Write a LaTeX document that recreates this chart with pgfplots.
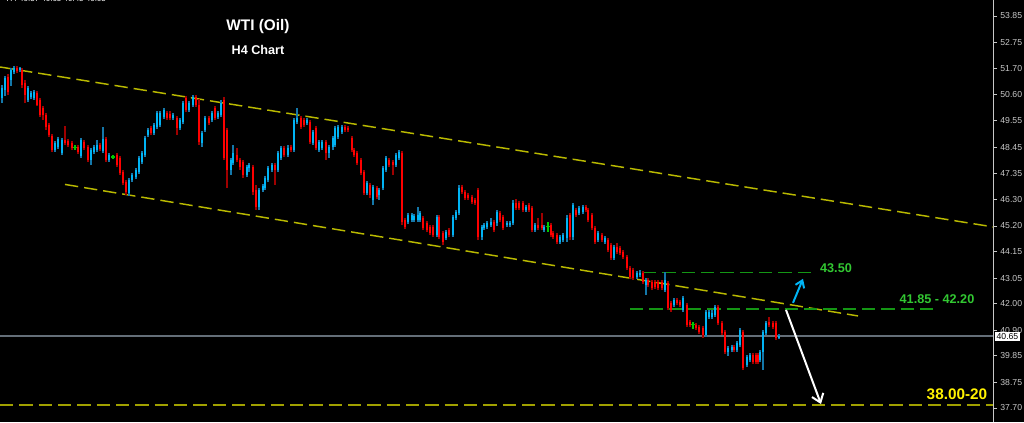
\documentclass[border=0pt]{standalone}
\usepackage{pgfplots}
\pgfplotsset{compat=1.18}
\usepackage{pgfplotstable}
\usepackage{fontspec}
\setmainfont{Liberation Sans}
\usetikzlibrary{arrows.meta}
\definecolor{bull}{RGB}{0,180,245}
\definecolor{bullw}{RGB}{20,120,170}
\definecolor{bear}{RGB}{255,0,0}
\definecolor{bearw}{RGB}{160,0,0}
\definecolor{doji}{RGB}{0,200,0}
\definecolor{chan}{RGB}{185,185,0}
\definecolor{lvl}{RGB}{20,150,20}
\definecolor{lvltxt}{RGB}{50,200,50}
\definecolor{cur}{RGB}{100,110,120}
\definecolor{axgray}{RGB}{200,200,200}
\definecolor{lowlvl}{RGB}{160,160,0}

\pgfplotstableread{
x o h l c
2 50.47 51.01 50.27 50.88
5 50.80 51.38 50.55 51.30
11 51.21 51.71 50.97 51.63
14 51.54 51.79 51.46 51.71
20 51.63 51.75 51.54 51.71
28 50.39 50.97 50.31 50.88
31 50.51 50.76 50.43 50.68
34 50.47 50.80 50.39 50.72
55 48.33 48.70 48.25 48.62
58 48.45 48.87 48.37 48.78
62 48.21 48.82 48.12 48.74
81 48.08 48.82 48.00 48.74
91 47.92 48.41 47.71 48.33
94 48.25 48.54 48.17 48.45
97 48.33 48.74 48.25 48.54
103 48.29 49.28 48.21 48.78
109 47.92 48.21 47.84 48.12
129 46.56 47.18 46.43 47.09
132 47.09 47.38 47.01 47.30
136 47.22 47.59 47.14 47.51
139 47.42 48.08 47.34 48.00
142 47.84 48.29 47.75 48.21
145 48.12 48.91 48.04 48.82
148 48.95 49.24 48.87 49.15
154 49.03 49.44 48.95 49.36
157 49.28 49.94 49.20 49.85
160 49.36 49.94 49.28 49.85
164 49.69 50.06 49.61 49.98
173 49.65 49.85 49.57 49.77
180 49.24 49.65 49.15 49.57
183 49.48 50.35 49.40 50.27
189 49.98 50.35 49.90 50.27
193 50.18 50.60 50.10 50.51
202 48.62 49.11 48.45 49.03
205 49.15 49.73 49.07 49.65
212 49.57 49.94 49.48 49.85
218 49.69 49.94 49.61 49.85
221 49.77 50.39 49.69 50.27
231 47.51 48.00 47.30 47.92
233 47.79 48.54 47.71 48.21
247 47.30 47.71 47.22 47.63
249 47.59 47.79 47.42 47.71
259 45.98 46.76 45.86 46.68
263 46.68 46.93 46.60 46.85
265 46.76 47.26 46.68 47.18
268 47.09 47.67 47.01 47.59
272 47.51 47.79 47.42 47.71
278 47.51 48.29 47.42 48.21
281 48.00 48.49 47.92 48.41
288 48.12 48.54 48.04 48.41
294 48.33 49.65 48.25 49.57
297 49.48 50.06 49.40 49.65
307 49.44 49.65 49.36 49.57
313 48.62 49.15 48.54 49.07
319 48.33 48.74 48.25 48.66
322 48.41 48.74 48.33 48.66
329 48.21 48.54 48.00 48.45
333 48.45 48.91 48.33 48.82
335 48.54 49.32 48.45 49.24
338 48.87 49.36 48.78 49.28
342 49.07 49.36 48.99 49.28
367 46.56 47.05 46.48 46.97
373 46.27 46.89 46.06 46.81
379 46.48 46.76 46.27 46.68
383 46.76 47.67 46.68 47.59
386 47.51 48.08 47.42 48.00
396 47.71 48.21 47.63 48.12
399 48.00 48.33 47.92 48.25
408 45.36 45.73 45.28 45.65
412 45.45 45.73 45.36 45.65
414 45.45 45.69 45.36 45.61
418 45.45 45.98 45.36 45.65
420 45.45 45.82 45.36 45.73
437 44.83 45.65 44.75 45.57
446 44.70 45.03 44.62 44.95
453 44.83 45.65 44.75 45.57
456 45.53 45.86 45.45 45.78
459 45.73 46.89 45.65 46.76
482 44.75 45.24 44.62 45.16
484 45.12 45.32 45.03 45.24
487 45.16 45.40 45.08 45.32
491 45.24 45.53 45.16 45.36
497 45.32 45.86 45.20 45.78
507 45.24 45.40 45.16 45.32
510 45.24 45.40 45.16 45.32
513 45.32 46.27 45.24 46.15
526 45.86 46.06 45.78 45.98
535 45.03 45.32 44.95 45.24
544 45.03 45.24 44.95 45.16
560 44.54 44.83 44.46 44.75
563 44.62 44.91 44.54 44.83
567 44.70 45.65 44.54 45.53
573 44.75 46.15 44.62 46.06
579 45.73 46.02 45.65 45.94
583 45.78 46.06 45.69 45.98
598 44.62 44.99 44.54 44.91
605 44.54 44.79 44.46 44.70
614 43.88 44.42 43.80 44.33
637 43.10 43.34 43.02 43.26
640 43.18 43.39 43.10 43.26
646 42.77 43.06 42.36 42.97
665 42.56 43.30 42.48 42.97
674 41.94 42.23 41.86 42.15
683 41.74 42.32 41.66 42.23
706 40.71 41.74 40.63 41.66
709 41.45 41.74 41.37 41.66
712 41.45 41.74 41.37 41.62
715 41.53 41.94 41.45 41.86
728 40.01 40.26 39.84 40.17
732 40.09 40.30 40.01 40.21
737 40.09 40.46 40.01 40.38
740 40.30 41.00 40.21 40.91
747 39.47 39.88 39.39 39.80
750 39.68 39.97 39.60 39.88
760 39.68 40.09 39.60 40.01
763 40.01 40.91 39.27 40.83
766 40.79 41.28 40.71 41.20
779 40.58 40.75 40.54 40.67
}\tblup

\pgfplotstableread{
x o h l c
8 51.34 51.46 50.60 50.72
17 51.71 51.79 51.50 51.59
22 51.63 51.71 50.88 51.01
25 51.09 51.21 50.27 50.60
37 50.68 50.76 50.14 50.18
40 50.39 50.47 49.69 49.77
43 50.06 50.14 49.57 49.77
46 49.77 49.85 49.15 49.28
49 49.36 49.44 48.87 48.95
52 48.91 48.99 48.25 48.33
65 48.74 49.32 48.54 48.62
68 48.70 48.78 48.45 48.54
72 48.62 48.70 48.33 48.41
78 48.45 48.54 48.17 48.25
84 48.66 48.74 48.33 48.41
88 48.45 48.54 47.84 47.92
100 48.54 48.62 48.29 48.37
106 48.78 48.87 47.84 47.92
117 48.12 48.21 47.63 47.71
120 48.00 48.08 47.30 47.38
123 47.42 47.51 46.89 46.97
126 47.01 47.09 46.48 46.60
151 49.24 49.32 48.95 49.03
167 49.85 49.94 49.57 49.65
170 49.81 49.94 49.57 49.65
177 49.65 49.73 48.95 49.24
186 50.47 50.55 49.90 49.98
196 50.51 50.60 50.10 50.18
199 50.18 50.43 48.54 48.66
209 49.65 49.73 49.36 49.44
215 50.06 50.14 49.57 49.65
224 50.39 50.51 47.92 48.00
227 49.15 49.24 46.76 47.51
237 48.12 48.41 47.84 47.92
240 47.92 48.00 47.51 47.63
243 47.84 47.92 47.18 47.30
253 47.63 47.71 46.48 46.60
256 46.68 46.89 45.86 45.98
275 47.71 47.79 46.89 47.51
284 48.41 48.49 48.04 48.12
291 48.45 48.54 48.25 48.33
301 49.65 49.73 49.20 49.28
304 49.57 49.65 49.28 49.36
310 49.48 49.57 48.58 48.66
316 49.24 49.32 48.33 48.41
326 48.66 48.74 47.92 48.21
345 49.28 49.36 49.07 49.15
348 49.24 49.32 49.07 49.15
352 48.82 48.91 48.25 48.33
354 48.33 48.41 48.04 48.12
357 48.21 48.29 47.71 47.79
361 47.92 48.00 47.30 47.38
364 47.42 47.51 46.48 46.56
370 46.89 46.97 46.35 46.48
377 46.76 46.85 46.31 46.39
389 47.92 48.00 47.63 47.71
393 47.84 47.92 47.30 47.71
402 48.21 48.29 45.24 45.36
405 45.45 45.53 45.08 45.16
423 45.53 45.61 45.03 45.12
427 45.32 45.40 44.95 45.03
430 45.16 45.24 44.83 44.91
433 45.16 45.24 44.75 44.83
439 45.57 45.65 44.66 44.75
443 44.91 44.99 44.42 44.54
449 45.03 45.12 44.75 44.83
462 46.81 46.89 46.52 46.60
465 46.60 46.68 46.27 46.35
468 46.48 46.56 46.27 46.35
472 46.39 46.48 46.11 46.19
475 46.27 46.35 46.06 46.15
478 46.68 46.76 44.62 44.75
494 45.36 45.45 44.95 45.03
500 45.73 45.82 45.36 45.45
503 45.57 45.65 45.03 45.12
516 46.15 46.31 45.86 45.94
519 46.15 46.23 45.86 45.94
523 46.15 46.23 45.78 45.86
529 46.06 46.15 45.78 45.86
532 45.94 46.02 44.95 45.03
538 45.24 45.53 45.03 45.12
542 45.24 45.73 45.03 45.12
551 45.24 45.32 44.75 44.83
553 44.91 44.99 44.66 44.75
557 44.83 44.91 44.46 44.54
570 45.65 45.73 44.62 44.75
576 45.86 45.94 45.57 45.65
586 45.98 46.06 45.78 45.86
588 45.86 45.94 45.36 45.45
592 45.65 45.73 45.03 45.12
595 45.12 45.20 44.46 44.54
602 44.83 44.91 44.54 44.62
608 44.62 44.70 44.13 44.21
611 44.42 44.50 43.80 43.88
617 44.33 44.50 44.04 44.13
620 44.29 44.37 44.00 44.09
623 44.13 44.21 43.84 43.92
627 43.92 44.00 43.39 43.47
630 43.47 43.55 43.02 43.10
633 43.39 43.47 42.97 43.06
643 43.26 43.34 42.81 42.89
648 42.97 43.06 42.69 42.77
652 42.89 42.97 42.56 42.65
655 42.89 42.97 42.60 42.69
658 42.89 42.97 42.56 42.65
662 42.89 42.97 42.56 42.65
668 42.85 42.93 41.74 41.82
671 42.03 42.11 41.66 41.74
677 42.15 42.23 41.94 42.03
680 42.07 42.15 41.86 41.94
687 41.94 42.03 41.04 41.12
690 41.24 41.33 41.04 41.12
696 41.12 41.20 40.91 41.00
699 41.04 41.12 40.75 40.83
703 41.00 41.08 40.58 40.71
718 41.86 41.94 41.12 41.20
722 41.20 41.28 40.71 40.79
725 40.83 40.91 39.93 40.01
734 40.21 40.30 40.01 40.09
743 40.83 40.91 39.27 39.35
753 39.88 39.97 39.51 39.60
756 39.88 39.97 39.51 39.60
758 39.88 39.97 39.51 39.60
769 41.24 41.45 41.04 41.12
773 41.20 41.28 40.95 41.04
776 41.20 41.28 40.50 40.58
}\tbldn

\pgfplotstableread{
x o h l c
75 48.45 48.54 48.33 48.45
113 48.04 48.12 47.96 48.04
548 45.16 45.36 44.95 45.16
693 41.12 41.24 40.95 41.12
}\tbldoji

\begin{document}
\begin{tikzpicture}
\useasboundingbox (0,0) rectangle (768pt,316.5pt);
\fill[black] (0,0) rectangle (768pt,316.5pt);
\begin{axis}[
  at={(0,0)}, anchor=south west,
  scale only axis, width=744.75pt, height=316.5pt,
  xmin=0, xmax=993, ymin=37.12, ymax=54.51,
  clip=false,
  axis x line=none, axis y line*=right,
  y axis line style={axgray, line width=0.75pt},
  ytick={53.85,52.75,51.70,50.60,49.55,48.45,47.35,46.30,45.20,44.15,43.05,42.00,40.90,39.85,38.75,37.70},
  yticklabel style={font=\fontsize{6.5}{7}\selectfont, text=axgray, xshift=-1pt,
    /pgf/number format/.cd, fixed, fixed zerofill, precision=2, assume math mode=true},
  ytick style={axgray, line width=0.6pt},
  tick align=outside, major tick length=3pt,
]
% channel and level lines
\addplot[chan, line width=1.1pt, dash pattern=on 10pt off 4.5pt] coordinates {(0,51.75) (993,45.16)};
\addplot[chan, line width=1.1pt, dash pattern=on 10pt off 4.5pt] coordinates {(65,46.91) (858,41.49)};
\addplot[lvl, line width=1.2pt, dash pattern=on 10pt off 4.5pt] coordinates {(643,43.28) (817,43.28)};
\addplot[lvl, line width=1.2pt, dash pattern=on 10pt off 4.5pt] coordinates {(630,41.78) (937,41.78)};
\addplot[lowlvl, line width=1.5pt, dash pattern=on 10pt off 4.5pt] coordinates {(0,37.82) (993,37.82)};
\addplot[cur, line width=1.3pt] coordinates {(0,40.65) (993,40.65)};
% wicks (low to high)
\addplot[forget plot, bullw, line width=0.8pt, quiver={u=0, v=\thisrow{h}-\thisrow{l}}] table[x=x, y=l] {\tblup};
\addplot[forget plot, bearw, line width=0.8pt, quiver={u=0, v=\thisrow{h}-\thisrow{l}}] table[x=x, y=l] {\tbldn};
\addplot[forget plot, doji, line width=0.8pt, quiver={u=0, v=\thisrow{h}-\thisrow{l}}] table[x=x, y=l] {\tbldoji};
% bodies (open to close)
\addplot[forget plot, bull, line width=2.2pt, quiver={u=0, v=\thisrow{c}-\thisrow{o}}] table[x=x, y=o] {\tblup};
\addplot[forget plot, bear, line width=2.2pt, quiver={u=0, v=\thisrow{c}-\thisrow{o}}] table[x=x, y=o] {\tbldn};
\addplot[forget plot, only marks, mark=-, mark size=1.4pt, mark options={draw=doji, line width=0.8pt}]
  table[x=x, y=o] {\tbldoji};
% arrows
\addplot[white, line width=1.5pt, -{Straight Barb[length=6pt,width=9pt]}] coordinates {(786,41.74) (821,37.86)};
\addplot[bull, line width=1.5pt, -{Straight Barb[length=5pt,width=7pt]}] coordinates {(793,42.03) (803,43.02)};
% texts
\node[font=\bfseries\fontsize{11.5}{12}\selectfont, text=white] at (axis cs:258,53.40) {WTI (Oil)};
\node[font=\bfseries\fontsize{9.5}{10}\selectfont, text=white] at (axis cs:258,52.45) {H4 Chart};
\node[font=\bfseries\fontsize{9.5}{10}\selectfont, text=lvltxt] at (axis cs:836,43.47) {43.50};
\node[font=\bfseries\fontsize{9.5}{10}\selectfont, text=lvltxt] at (axis cs:937,42.19) {41.85 - 42.20};
\node[font=\bfseries\fontsize{11.5}{12}\selectfont, text=yellow] at (axis cs:957,38.28) {38.00-20};
\node[anchor=west, fill=white, text=black, inner sep=1pt, font=\fontsize{6.5}{7}\selectfont] at (axis cs:995,40.65) {40.65};
\node[anchor=base west, text=white, font=\fontsize{6}{6}\selectfont] at (axis cs:2,54.43) {H4 40.57 40.65 40.45 40.65};
\end{axis}
\end{tikzpicture}
\end{document}
